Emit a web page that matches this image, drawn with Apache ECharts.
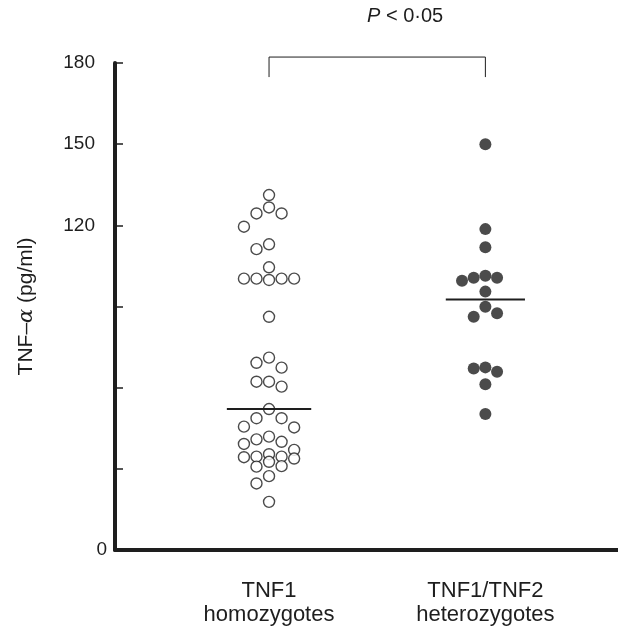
<!DOCTYPE html>
<html>
<head>
<meta charset="utf-8">
<script src="https://cdn.jsdelivr.net/npm/echarts@6/dist/echarts.min.js"></script>
<style>
html, body { margin: 0; padding: 0; background: #fff; }
#main { width: 618px; height: 635px; }
</style>
</head>
<body>
<div id="main"></div>
<script>
// data
var groups = ['TNF1\nhomozygotes', 'TNF1/TNF2\nheterozygotes'];
var yTicks = [0, 120, 150, 180];

var homoValues = [131.2, 126.6, 124.4, 124.4, 119.5, 113.0, 111.2, 104.5,
    100.3, 100.3, 99.8, 100.3, 100.3, 86.2,
    71.1, 69.2, 67.4, 62.2, 62.2, 60.4, 52.1, 48.7, 48.7, 45.6, 45.3,
    41.9, 40.9, 40.0, 39.2, 37.0, 35.4, 34.5, 34.5, 34.3, 33.8,
    32.6, 31.0, 30.8, 27.3, 24.6, 17.8];
var homoCols = [0, 0, -1, 1, -2, 0, -1, 0,
    -2, -1, 0, 1, 2, 0,
    0, -1, 1, -1, 0, 1, 0, -1, 1, -2, 2,
    0, -1, 1, -2, 2, 0, -1, 1, -2, 2,
    0, 1, -1, 0, -1, 0];

var heteroValues = [150.0, 118.6, 111.9, 101.4, 100.6, 100.6, 99.5, 95.5,
    89.9, 87.5, 86.2, 67.5, 67.1, 65.9, 61.3, 50.3];
var heteroCols = [0, 0, 0, 0, -1, 1, -2, 0,
    0, 1, -1, 0, -1, 1, 0, 0];

var medians = [52.1, 92.6];
var pLabel = '{i|P} < 0·05';

var ink = '#1e1e1e';
var font = 'Liberation Sans, Arial, sans-serif';
var colStep = [0.058, 0.054];
var medianHalf = [0.195, 0.183];

var buildPoints = function (g, values, cols) {
    var out = [];
    for (var i = 0; i < values.length; i++) {
        out.push([g + cols[i] * colStep[g - 1], values[i]]);
    }
    return out;
};

var chart = echarts.init(document.getElementById('main'));

var option = {
    animation: false,
    grid: { left: 115, right: 0, top: 63, bottom: 85 },
    xAxis: {
        type: 'value',
        min: 0.288,
        max: 2.613,
        axisLine: { show: true, lineStyle: { color: ink, width: 4 } },
        axisTick: { show: false },
        splitLine: { show: false },
        axisLabel: {
            customValues: [1, 2],
            margin: 29,
            color: ink,
            fontSize: 22,
            lineHeight: 24,
            fontFamily: font,
            formatter: function (v) {
                return groups[Math.round(v) - 1];
            }
        }
    },
    yAxis: {
        type: 'value',
        min: 0,
        max: 180,
        interval: 30,
        name: 'TNF–{a|α} (pg/ml)',
        nameLocation: 'middle',
        nameGap: 78,
        nameTextStyle: {
            color: ink,
            fontSize: 21,
            fontFamily: font,
            rich: {
                a: { fontSize: 21, fontStyle: 'italic', color: ink, fontFamily: 'DejaVu Serif, serif' }
            }
        },
        axisLine: { show: true, lineStyle: { color: ink, width: 4 } },
        axisTick: { show: true, inside: true, length: 8, lineStyle: { color: ink, width: 1.5 } },
        splitLine: { show: false },
        axisLabel: {
            margin: 8,
            color: ink,
            fontSize: 19,
            fontFamily: font,
            formatter: function (v) {
                if (yTicks.indexOf(v) < 0) return '';
                return v === 0 ? '{z|0}' : '{n|' + v + '}';
            },
            rich: {
                n: { fontSize: 19, color: ink, padding: [0, 12, 0, 0] },
                z: { fontSize: 19, color: ink }
            }
        }
    },
    series: [
        {
            type: 'scatter',
            data: buildPoints(1, homoValues, homoCols),
            symbol: 'circle',
            symbolSize: 11,
            itemStyle: { color: '#fff', borderColor: ink, borderWidth: 1.4 },
            z: 3
        },
        {
            type: 'scatter',
            data: buildPoints(2, heteroValues, heteroCols),
            symbol: 'circle',
            symbolSize: 12,
            itemStyle: { color: ink },
            z: 3
        },
        {
            type: 'line',
            data: [[1 - medianHalf[0], medians[0]], [1 + medianHalf[0], medians[0]]],
            symbol: 'none',
            lineStyle: { color: ink, width: 2 },
            z: 4
        },
        {
            type: 'line',
            data: [[2 - medianHalf[1], medians[1]], [2 + medianHalf[1], medians[1]]],
            symbol: 'none',
            lineStyle: { color: ink, width: 2 },
            z: 4
        },
        {
            // significance bracket
            type: 'line',
            data: [[1, 174.8], [1, 182.2], [2, 182.2], [2, 174.8]],
            symbol: 'none',
            clip: false,
            lineStyle: { color: ink, width: 1 },
            z: 2
        }
    ]
};

chart.setOption(option);

var pPos = chart.convertToPixel({ gridIndex: 0 }, [1.629, 197.3]);
chart.setOption({
    graphic: [{
        type: 'text',
        x: pPos[0],
        y: pPos[1],
        style: {
            text: pLabel,
            fill: ink,
            fontSize: 20,
            fontFamily: font,
            align: 'center',
            verticalAlign: 'middle',
            rich: {
                i: { fontSize: 20, fontStyle: 'italic', fill: ink, fontFamily: font }
            }
        }
    }]
});
</script>
</body>
</html>
